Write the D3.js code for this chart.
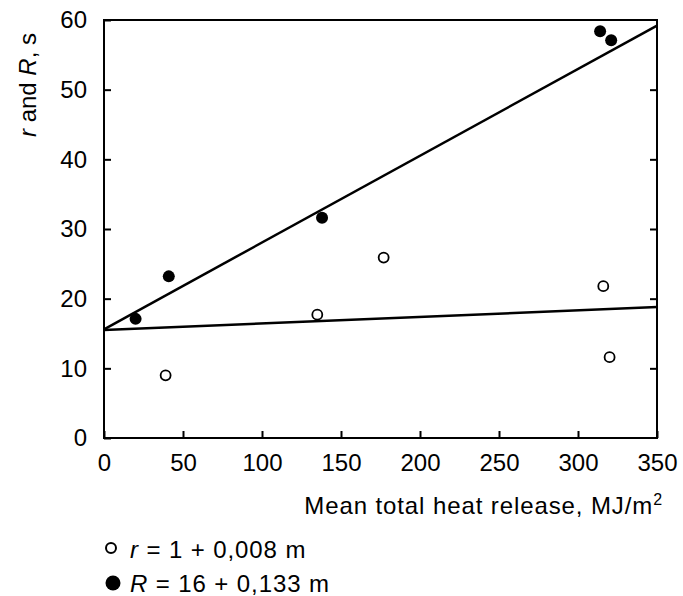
<!DOCTYPE html>
<html>
<head>
<meta charset="utf-8">
<script src="https://cdn.jsdelivr.net/npm/d3@7"></script>
<style>
  body { margin: 0; background: #fff; }
  text { font-family: "Liberation Sans", Arial, sans-serif; fill: #000; }
</style>
</head>
<body>
<div id="chart"></div>
<script>
// data
var openX = [39, 135, 177, 316, 320];
var openY = [9.0, 17.7, 25.9, 21.8, 11.6];
var filledX = [20, 41, 138, 314, 321];
var filledY = [17.1, 23.2, 31.6, 58.4, 57.1];
// fitted lines as drawn (start and end)
var rLineX = [0, 350], rLineY = [15.5, 18.8];
var bigRLineX = [0, 350], bigRLineY = [15.6, 59.2];
var xTicks = [0, 50, 100, 150, 200, 250, 300, 350];
var yTicks = [0, 10, 20, 30, 40, 50, 60];

var W = 683, H = 596;
var margin = {top: 20, right: 26, bottom: 158, left: 104},
    width = W - margin.left - margin.right,
    height = H - margin.top - margin.bottom;

var svg = d3.select("#chart").append("svg")
    .attr("width", W).attr("height", H);

var g = svg.append("g")
    .attr("transform", "translate(" + margin.left + "," + margin.top + ")");

var x = d3.scaleLinear().domain([0, 350]).range([0, width]);
var y = d3.scaleLinear().domain([0, 60]).range([height, 0]);

// frame
g.append("rect")
    .attr("width", width).attr("height", height)
    .attr("fill", "none").attr("stroke", "#000").attr("stroke-width", 2);

// bottom axis, ticks inward
var xa = g.append("g")
    .attr("transform", "translate(0," + height + ")")
    .call(d3.axisBottom(x).tickValues(xTicks).tickSizeInner(-7).tickSizeOuter(0).tickPadding(16));
xa.select(".domain").remove();
xa.selectAll("line").attr("stroke-width", 2);
xa.selectAll("text").style("font-size", "24px").style("font-family", "Liberation Sans, Arial, sans-serif");

// left axis, ticks inward
var ya = g.append("g")
    .call(d3.axisLeft(y).tickValues(yTicks).tickSizeInner(-7).tickSizeOuter(0).tickPadding(17));
ya.select(".domain").remove();
ya.selectAll("line").attr("stroke-width", 2);
ya.selectAll("text").style("font-size", "24px").style("font-family", "Liberation Sans, Arial, sans-serif");

// right axis ticks, inward
var ra = g.append("g")
    .attr("transform", "translate(" + width + ",0)")
    .call(d3.axisRight(y).tickValues(yTicks.slice(1, -1)).tickSizeInner(-7).tickSizeOuter(0).tickFormat(""));
ra.select(".domain").remove();
ra.selectAll("line").attr("stroke-width", 2);

// lines
var line = d3.line()
    .x(function(d) { return x(d[0]); })
    .y(function(d) { return y(d[1]); });

g.append("path")
    .datum(rLineX.map(function(v, i) { return [v, rLineY[i]]; }))
    .attr("fill", "none").attr("stroke", "#000").attr("stroke-width", 2.5)
    .attr("d", line);

g.append("path")
    .datum(bigRLineX.map(function(v, i) { return [v, bigRLineY[i]]; }))
    .attr("fill", "none").attr("stroke", "#000").attr("stroke-width", 2.5)
    .attr("d", line);

// points
g.selectAll(".open")
    .data(openX)
    .enter().append("circle")
      .attr("cx", function(d) { return x(d); })
      .attr("cy", function(d, i) { return y(openY[i]); })
      .attr("r", 5)
      .attr("fill", "#fff").attr("stroke", "#000").attr("stroke-width", 1.8);

g.selectAll(".filled")
    .data(filledX)
    .enter().append("circle")
      .attr("cx", function(d) { return x(d); })
      .attr("cy", function(d, i) { return y(filledY[i]); })
      .attr("r", 6)
      .attr("fill", "#000");

// y label
var yl = svg.append("text")
    .attr("transform", "translate(36,85) rotate(-90)")
    .attr("text-anchor", "middle")
    .style("font-size", "24px");
yl.append("tspan").style("font-style", "italic").text("r");
yl.append("tspan").text(" and ");
yl.append("tspan").style("font-style", "italic").text("R");
yl.append("tspan").text(", s");

// x label
var xl = svg.append("text")
    .attr("x", 663).attr("y", 514)
    .attr("text-anchor", "end")
    .style("font-size", "24px")
    .style("letter-spacing", "0.9px");
xl.append("tspan").text("Mean total heat release, MJ/m");
xl.append("tspan").attr("dy", -9).style("font-size", "16px").text("2");

// legend
svg.append("circle")
    .attr("cx", 111).attr("cy", 548).attr("r", 5)
    .attr("fill", "#fff").attr("stroke", "#000").attr("stroke-width", 2);
var l1 = svg.append("text").attr("x", 130).attr("y", 558)
    .style("font-size", "24px").style("letter-spacing", "0.9px");
l1.append("tspan").style("font-style", "italic").text("r");
l1.append("tspan").text(" = 1 + 0,008 m");

svg.append("circle")
    .attr("cx", 113).attr("cy", 583).attr("r", 7.5)
    .attr("fill", "#000");
var l2 = svg.append("text").attr("x", 130).attr("y", 592)
    .style("font-size", "24px").style("letter-spacing", "0.9px");
l2.append("tspan").style("font-style", "italic").text("R");
l2.append("tspan").text(" = 16 + 0,133 m");
</script>
</body>
</html>
